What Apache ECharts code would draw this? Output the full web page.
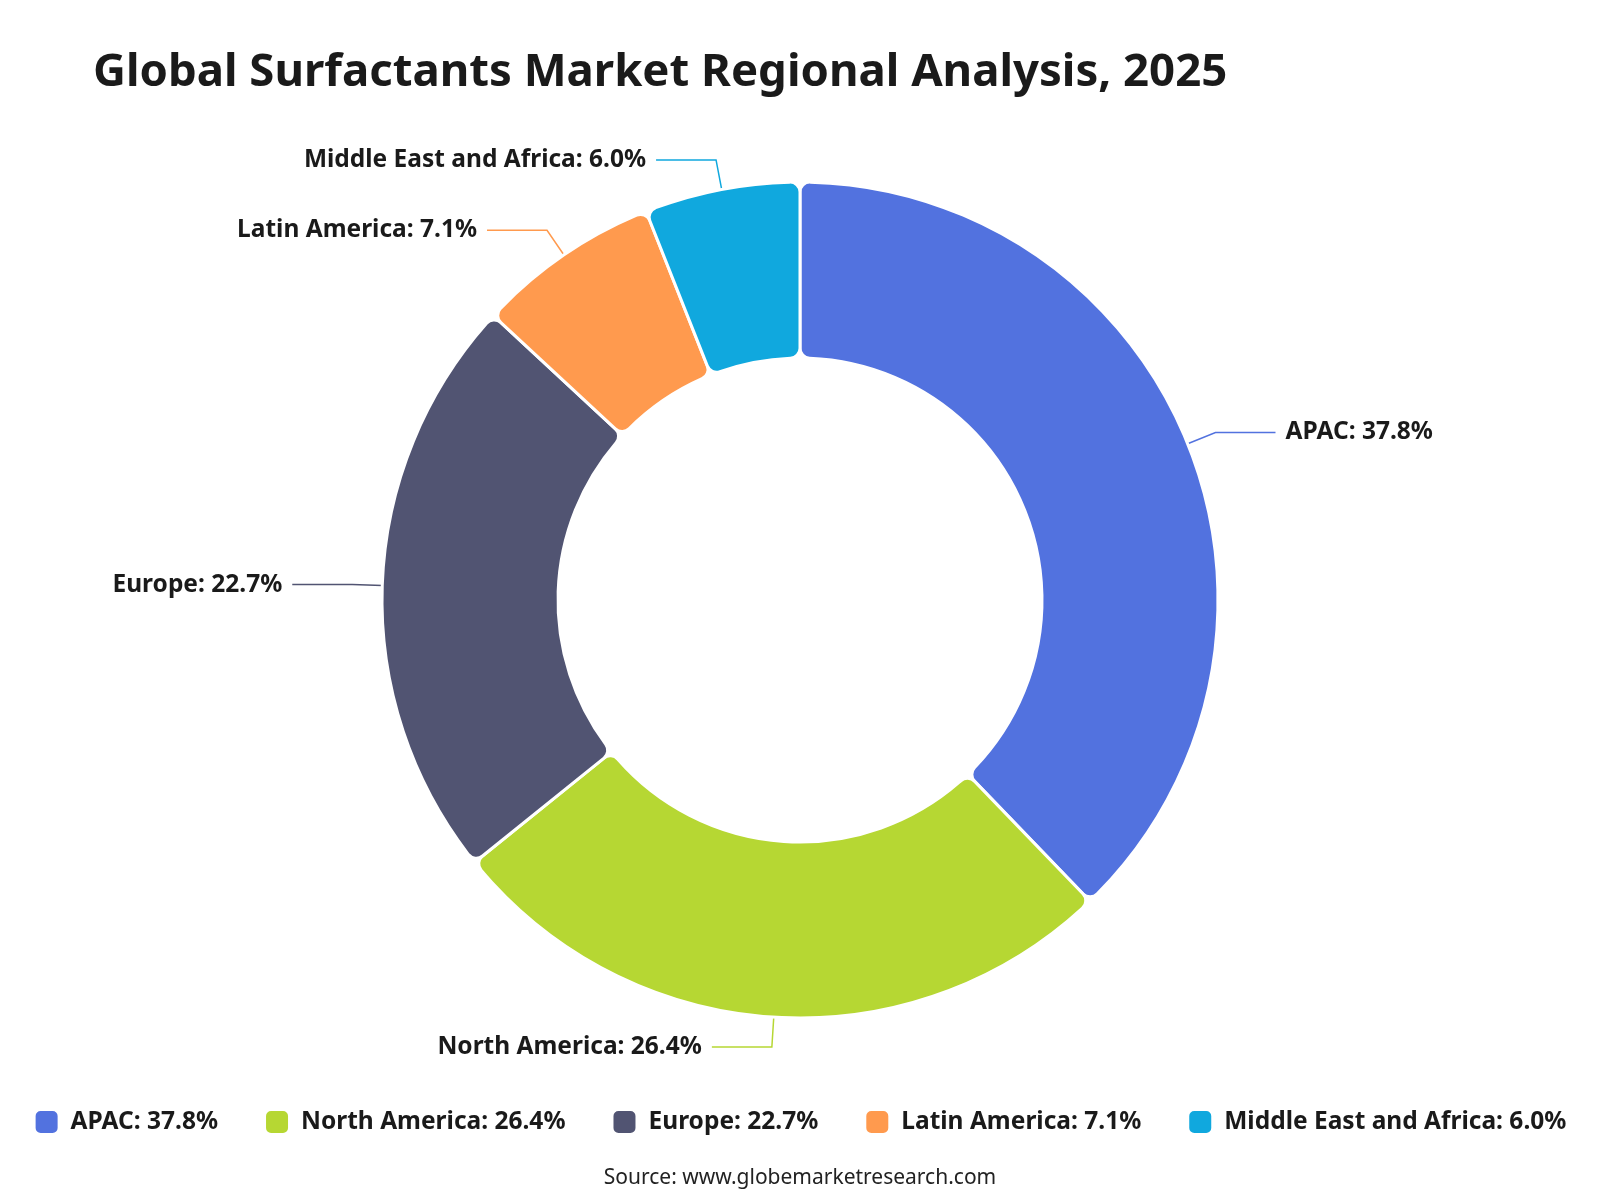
<!DOCTYPE html>
<html>
<head>
<meta charset="utf-8">
<title>Global Surfactants Market Regional Analysis, 2025</title>
<script src="https://cdn.jsdelivr.net/npm/echarts@6/dist/echarts.min.js"></script>
<style>
  html, body { margin: 0; padding: 0; background: #fff; }
  #chart { width: 1600px; height: 1200px; }
</style>
</head>
<body>
<div id="chart"></div>
<script>
// data
var regions = ['APAC', 'North America', 'Europe', 'Latin America', 'Middle East and Africa'];
var shares = [37.8, 26.4, 22.7, 7.1, 6.0];
var colors = ['#5272df', '#b6d733', '#515472', '#ff9a4e', '#10a8de'];

var FONT = '"Noto Sans", "Open Sans", sans-serif';

var pieData = regions.map(function (name, i) {
    return { name: name, value: shares[i], itemStyle: { color: colors[i] } };
});

function labelOf(name) {
    var i = regions.indexOf(name);
    return name + ': ' + shares[i].toFixed(1) + '%';
}

var chart = echarts.init(document.getElementById('chart'));

var option = {
    backgroundColor: '#ffffff',
    animation: false,
    title: [{
        text: 'Global Surfactants Market Regional Analysis, 2025',
        left: 88,
        top: 45,
        textStyle: { fontFamily: FONT, fontSize: 45.5, fontWeight: 'bold', color: '#1a1a1a' }
    }, {
        text: 'Source: www.globemarketresearch.com',
        left: 'center',
        top: 1163,
        textStyle: { fontFamily: FONT, fontSize: 21, fontWeight: 'normal', color: '#222' }
    }],
    legend: {
        bottom: 60,
        left: 'center',
        itemWidth: 24,
        itemHeight: 24,
        itemGap: 46,
        icon: 'roundRect',
        data: regions,
        formatter: labelOf,
        textStyle: { fontFamily: FONT, fontSize: 24.5, fontWeight: 'bold', color: '#1a1a1a', padding: [0, 0, 0, 7] }
    },
    series: [{
        type: 'pie',
        center: [800, 600],
        radius: [242, 418],
        startAngle: 90,
        clockwise: true,
        avoidLabelOverlap: true,
        itemStyle: { borderColor: '#ffffff', borderWidth: 3, borderRadius: 10 },
        label: {
            show: true,
            formatter: function (p) { return labelOf(p.name); },
            fontFamily: FONT,
            fontSize: 24.5,
            fontWeight: 'bold',
            color: '#1a1a1a',
            distanceToLabelLine: 10
        },
        labelLine: { show: true, length: 30, length2: 60, lineStyle: { width: 1.5 } },
        data: pieData
    }]
};

chart.setOption(option);
</script>
</body>
</html>
